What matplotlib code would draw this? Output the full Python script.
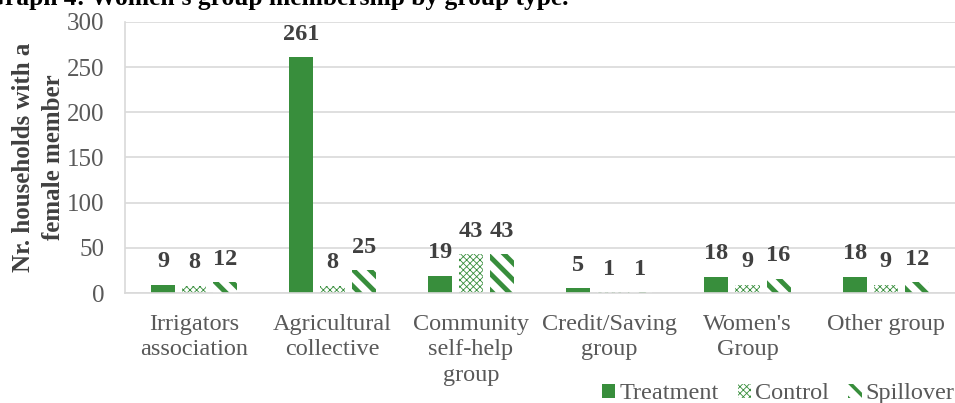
import matplotlib
matplotlib.use("Agg")
import matplotlib.pyplot as plt
import numpy as np
from matplotlib.patches import Patch

categories = ["Irrigators\nassociation", "Agricultural\ncollective", "Community\nself-help\ngroup",
              "Credit/Saving\ngroup", "Women's\nGroup", "Other group"]
treatment = [9, 261, 19, 5, 18, 18]
control = [8, 8, 43, 1, 9, 9]
spillover = [12, 25, 43, 1, 16, 12]
series_names = ["Treatment", "Control", "Spillover"]
yticks = [0, 50, 100, 150, 200, 250, 300]

GREEN = "#388E3C"
GRAY_TXT = "#595959"
DARK = "#404040"
GRID = "#D9D9D9"
FS = 17.5

plt.rcParams['font.family'] = ['Liberation Serif', 'DejaVu Serif']

fig = plt.figure(figsize=(9.55, 4.03), dpi=100)
ax = fig.add_axes([125/955, 1-293/403, 1-125/955, (293-22)/403])

x = np.arange(len(categories))
w = 0.174
step = 0.225

plt.rcParams['hatch.linewidth'] = 0.6
b1 = ax.bar(x - step, treatment, w, color=GREEN, linewidth=0)
b2 = ax.bar(x, control, w, color="white", edgecolor=GREEN, hatch="xxxxx", linewidth=0)
plt.rcParams['hatch.linewidth'] = 3.5
b3 = ax.bar(x + step, spillover, w, color="white", edgecolor=GREEN, hatch="\\\\", linewidth=0)

for bars, vals in ((b1, treatment), (b2, control), (b3, spillover)):
    for rect, v in zip(bars, vals):
        ax.annotate(str(v), (rect.get_x() + rect.get_width()/2, v), xytext=(0, 9),
                    textcoords="offset points", ha="center", va="bottom",
                    fontsize=FS, fontweight="bold", color=DARK)

ax.set_xlim(-0.5, len(categories) - 0.5)
ax.set_ylim(0, 300)
ax.set_yticks(yticks)
ax.set_yticklabels([str(t) for t in yticks])
ax.set_xticks(x)
ax.set_xticklabels(categories, linespacing=1.28)
ax.tick_params(axis='both', length=0, labelsize=FS, labelcolor=GRAY_TXT)
ax.tick_params(axis='y', labelsize=18)
ax.tick_params(axis='x', pad=15)
ax.tick_params(axis='y', pad=15)
ax.grid(axis='y', color=GRID, linewidth=1.2)
ax.set_axisbelow(True)
for s in ["top", "right"]:
    ax.spines[s].set_visible(False)
for s in ["left", "bottom"]:
    ax.spines[s].set_color(GRID)
    ax.spines[s].set_linewidth(1.2)

ax.set_ylabel("Nr. households with a\nfemale member", fontsize=18, fontweight="bold",
              color=DARK, linespacing=1.4)
ax.yaxis.set_label_coords(-60/830, 0.5)

fig.text(-15/955, 1 - 4.5/403, "Graph 4: Women's group membership by group type.",
         fontsize=18.4, fontweight="bold", color="black", va="baseline", ha="left")

plt.rcParams['hatch.linewidth'] = 0.6
h1 = Patch(facecolor=GREEN, linewidth=0)
h2 = Patch(facecolor="white", edgecolor=GREEN, hatch="xxxxx", linewidth=0)
h3 = Patch(facecolor="white", edgecolor=GREEN, hatch="\\\\", linewidth=0)
leg = fig.legend([h1, h2, h3], series_names, loc="lower right", bbox_to_anchor=(1.022, -0.058),
                 ncol=3, frameon=False, fontsize=FS, handlelength=0.55, handleheight=0.55,
                 handletextpad=0.15, columnspacing=0.8, labelcolor=GRAY_TXT)
hs = leg.legend_handles
for hnd, lw in zip(hs, (0.6, 0.6, 2.6)):
    if hasattr(hnd, "set_hatch_linewidth"):
        hnd.set_hatch_linewidth(lw)

fig.savefig("out.png", dpi=100)
